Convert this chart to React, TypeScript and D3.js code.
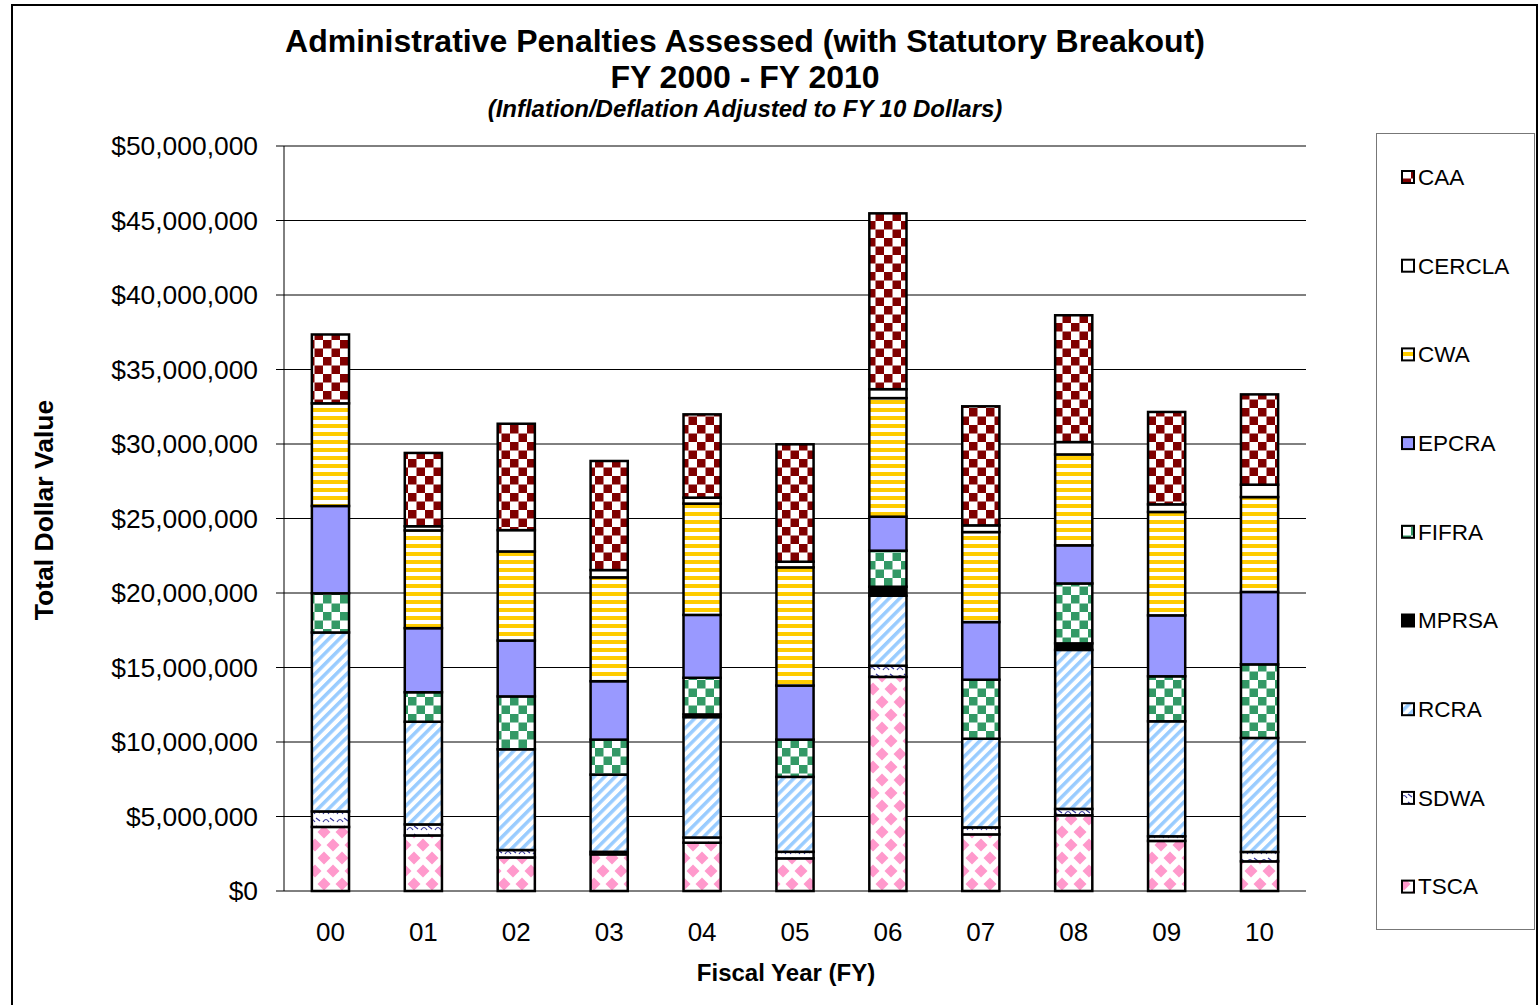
import * as d3 from 'd3';
import React from 'react';

// values in millions of FY10 dollars
const years = ['00', '01', '02', '03', '04', '05', '06', '07', '08', '09', '10'];

// stack order, bottom to top
const statutes = ['TSCA', 'SDWA', 'RCRA', 'MPRSA', 'FIFRA', 'EPCRA', 'CWA', 'CERCLA', 'CAA'];

const tsca = [4.3, 3.73, 2.25, 2.46, 3.24, 2.19, 14.37, 3.8, 5.08, 3.36, 1.99];
const sdwa = [1.04, 0.74, 0.5, 0.17, 0.35, 0.44, 0.75, 0.47, 0.43, 0.31, 0.63];
const rcra = [12.01, 6.89, 6.76, 5.18, 8.08, 5.03, 4.7, 5.95, 10.67, 7.72, 7.65];
const mprsa = [0, 0, 0, 0, 0.18, 0, 0.6, 0, 0.44, 0, 0];
const fifra = [2.63, 1.98, 3.55, 2.35, 2.46, 2.5, 2.42, 3.96, 4.02, 3.02, 4.94];
const epcra = [5.86, 4.3, 3.75, 3.92, 4.22, 3.63, 2.28, 3.87, 2.56, 4.09, 4.86];
const cwa = [6.89, 6.56, 5.98, 6.97, 7.47, 7.93, 7.96, 6.04, 6.1, 6.94, 6.37];
const cercla = [0, 0.28, 1.43, 0.49, 0.4, 0.38, 0.6, 0.45, 0.83, 0.51, 0.83];
const caa = [4.62, 4.92, 7.14, 7.32, 5.59, 7.88, 11.8, 7.99, 8.51, 6.2, 6.06];

// legend lists them alphabetically
const legendOrder = ['CAA', 'CERCLA', 'CWA', 'EPCRA', 'FIFRA', 'MPRSA', 'RCRA', 'SDWA', 'TSCA'];

const yTicks = [0, 5, 10, 15, 20, 25, 30, 35, 40, 45, 50];

const seriesByKey: Record<string, number[]> = {
  TSCA: tsca,
  SDWA: sdwa,
  RCRA: rcra,
  MPRSA: mprsa,
  FIFRA: fifra,
  EPCRA: epcra,
  CWA: cwa,
  CERCLA: cercla,
  CAA: caa
};

const fills: Record<string, string> = {
  TSCA: 'url(#p-tsca)',
  SDWA: 'url(#p-sdwa)',
  RCRA: 'url(#p-rcra)',
  MPRSA: '#000000',
  FIFRA: 'url(#p-fifra)',
  EPCRA: '#9999ff',
  CWA: 'url(#p-cwa)',
  CERCLA: '#ffffff',
  CAA: 'url(#p-caa)'
};

const font = "Arial, 'Liberation Sans', sans-serif";

const App = () => {
  const width = 1539;
  const height = 1005;
  const left = 284;
  const right = 1306;
  const top = 146;
  const bottom = 891;

  const rows = years.map((yr, i) => {
    const row: Record<string, number | string> = { year: yr };
    statutes.forEach((k) => {
      row[k] = seriesByKey[k][i];
    });
    return row;
  });

  const stack = d3.stack<Record<string, number | string>>().keys(statutes);
  const layers = stack(rows as any);

  const x = d3
    .scaleBand<string>()
    .domain(years)
    .range([left, right])
    .paddingInner(0.6)
    .paddingOuter(0.3);

  const y = d3.scaleLinear().domain([0, 50]).range([bottom, top]);
  const fmt = d3.format('$,');

  return (
    <svg
      width={width}
      height={height}
      style={{ position: 'absolute', left: 0, top: 0, background: '#fff' }}
      fontFamily={font}
    >
      <defs>
        <pattern id="p-caa" width={17} height={17} patternUnits="userSpaceOnUse">
          <rect width={17} height={17} fill="#fff" />
          <rect width={8.5} height={8.5} fill="#800000" />
          <rect x={8.5} y={8.5} width={8.5} height={8.5} fill="#800000" />
        </pattern>
        <pattern id="p-fifra" width={17} height={17} patternUnits="userSpaceOnUse">
          <rect width={17} height={17} fill="#fff" />
          <rect width={8.5} height={8.5} fill="#339966" />
          <rect x={8.5} y={8.5} width={8.5} height={8.5} fill="#339966" />
        </pattern>
        <pattern id="p-cwa" width={8} height={8} patternUnits="userSpaceOnUse">
          <rect width={8} height={8} fill="#fff" />
          <rect y={0} width={8} height={4} fill="#ffcc00" />
        </pattern>
        <pattern
          id="p-rcra"
          width={7.5}
          height={7.5}
          patternUnits="userSpaceOnUse"
          patternTransform="rotate(45)"
        >
          <rect width={7.5} height={7.5} fill="#fff" />
          <rect width={3.5} height={7.5} fill="#99ccff" />
        </pattern>
        <pattern id="p-sdwa" width={14} height={8} patternUnits="userSpaceOnUse">
          <rect width={14} height={8} fill="#fff" />
          <path d="M1,6 Q4,1 7,6 M8,2 L12,5" stroke="#333399" strokeWidth={1.2} fill="none" />
        </pattern>
        <pattern id="p-tsca" width={18} height={26} patternUnits="userSpaceOnUse">
          <rect width={18} height={26} fill="#fff" />
          <path
            d="M0,-6.5 L6.5,0 L0,6.5 L-6.5,0 Z M18,-6.5 L24.5,0 L18,6.5 L11.5,0 Z M0,19.5 L6.5,26 L0,32.5 L-6.5,26 Z M18,19.5 L24.5,26 L18,32.5 L11.5,26 Z M9,6.5 L15.5,13 L9,19.5 L2.5,13 Z"
            fill="#ff99cc"
          />
        </pattern>
      </defs>

      {/* outer chart border */}
      <rect x={12} y={5} width={1525} height={1100} fill="none" stroke="#000" strokeWidth={2} />

      {/* title */}
      <text x={745} y={52} textAnchor="middle" fontSize={32} fontWeight="bold">
        Administrative Penalties Assessed (with Statutory Breakout)
      </text>
      <text x={745} y={88} textAnchor="middle" fontSize={32} fontWeight="bold">
        FY 2000 - FY 2010
      </text>
      <text x={745} y={117} textAnchor="middle" fontSize={24} fontWeight="bold" fontStyle="italic">
        (Inflation/Deflation Adjusted to FY 10 Dollars)
      </text>

      {/* gridlines and y axis */}
      {yTicks.map((t) => (
        <g key={t}>
          <line x1={left - 8} x2={right} y1={y(t)} y2={y(t)} stroke="#000" strokeWidth={1} />
          <text x={258} y={y(t)} dy="0.35em" textAnchor="end" fontSize={26.4}>
            {fmt(t * 1000000)}
          </text>
        </g>
      ))}
      <line x1={left} x2={left} y1={top} y2={bottom} stroke="#000" strokeWidth={1} />

      {/* bars */}
      {layers.map((layer) => (
        <g key={layer.key}>
          {layer.map((d, i) => {
            const h = y(d[0]) - y(d[1]);
            if (h <= 0) return null;
            return (
              <rect
                key={i}
                x={x(years[i])}
                y={y(d[1])}
                width={x.bandwidth()}
                height={h}
                fill={fills[layer.key]}
                stroke="#000"
                strokeWidth={2.5}
              />
            );
          })}
        </g>
      ))}

      {/* x labels */}
      {years.map((yr) => (
        <text
          key={yr}
          x={(x(yr) as number) + x.bandwidth() / 2}
          y={941}
          textAnchor="middle"
          fontSize={26}
        >
          {yr}
        </text>
      ))}

      <text x={786} y={981} textAnchor="middle" fontSize={24} fontWeight="bold">
        Fiscal Year (FY)
      </text>
      <text
        transform="translate(53,510) rotate(-90)"
        textAnchor="middle"
        fontSize={26.5}
        fontWeight="bold"
      >
        Total Dollar Value
      </text>

      {/* legend */}
      <rect x={1376.5} y={133.5} width={158} height={796} fill="#fff" stroke="#777" strokeWidth={1} />
      {legendOrder.map((k, i) => {
        const cy = 177 + i * 88.7;
        return (
          <g key={k}>
            <rect
              x={1402}
              y={cy - 6}
              width={12}
              height={12}
              fill={fills[k]}
              stroke="#000"
              strokeWidth={2}
            />
            <text x={1418} y={cy} dy="0.35em" fontSize={22.5}>
              {k}
            </text>
          </g>
        );
      })}
    </svg>
  );
};

export default App;
